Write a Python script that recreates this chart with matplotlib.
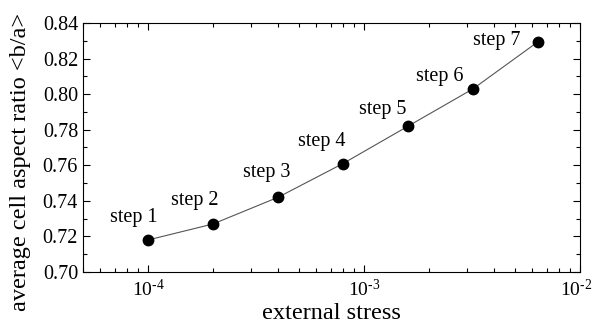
import numpy as np
import matplotlib
matplotlib.use('Agg')
import matplotlib.pyplot as plt
import matplotlib.transforms as mtransforms
from matplotlib.ticker import LogLocator, MultipleLocator, FixedLocator, NullFormatter

plt.rcParams['font.family'] = 'Liberation Serif'
plt.rcParams['mathtext.fontset'] = 'custom'
plt.rcParams['mathtext.rm'] = 'Liberation Serif'
plt.rcParams['mathtext.it'] = 'Liberation Serif:italic'

# data
stress = [1e-4, 2e-4, 4e-4, 8e-4, 1.6e-3, 3.2e-3, 6.4e-3]
ratio = [0.718, 0.727, 0.742, 0.761, 0.782, 0.803, 0.8295]
labels = ['step 1', 'step 2', 'step 3', 'step 4', 'step 5', 'step 6', 'step 7']
x_ticks = [1e-4, 1e-3, 1e-2]
x_ticklabels = [r'10$^{\text{-4}}$', r'10$^{\text{-3}}$', r'10$^{\text{-2}}$']

# label offsets in points (text centre relative to marker)
offsets = [(-10, 16), (-13, 17), (-8, 18), (-15, 16), (-18, 12), (-24, 9), (-30, 1)]

fig = plt.figure(figsize=(5.94, 3.27), dpi=100)
ax = fig.add_axes([0.1397, 0.1682, 0.8367, 0.7615])

ax.plot(stress, ratio, color='#555555', lw=0.8, zorder=2)
ax.plot(stress, ratio, 'o', color='black', ms=7.5, zorder=3)

for xv, yv, lab, off in zip(stress, ratio, labels, offsets):
    ax.annotate(lab, (xv, yv), xytext=off, textcoords='offset points',
                ha='center', va='center', fontsize=14.5)

ax.set_xscale('log')
ax.set_xlim(5e-5, 1e-2)
ax.set_ylim(0.70, 0.84)
ax.xaxis.set_major_locator(FixedLocator(x_ticks))
ax.set_xticklabels(x_ticklabels)
ax.xaxis.set_minor_locator(LogLocator(base=10, subs=np.arange(2, 10)))
ax.xaxis.set_minor_formatter(NullFormatter())
ax.yaxis.set_major_locator(MultipleLocator(0.02))
ax.yaxis.set_minor_locator(MultipleLocator(0.01))
ax.yaxis.set_major_formatter(plt.FormatStrFormatter('%.2f'))

ax.tick_params(which='both', direction='in', top=True, right=True, labelsize=14.5)
ax.tick_params(axis='x', labelsize=14)
ax.tick_params(which='major', length=5, width=0.8)
ax.tick_params(which='minor', length=3, width=0.8)
ax.tick_params(axis='x', pad=5)

# nudge the last x label so it stays inside the figure
last = ax.get_xticklabels()[-1]
last.set_transform(last.get_transform() + mtransforms.ScaledTranslation(-3 / 72, 0, fig.dpi_scale_trans))

ax.set_xlabel('external stress', fontsize=17.5, labelpad=2)
ax.set_ylabel('average cell aspect ratio <b/a>', fontsize=17.5)
ax.yaxis.set_label_coords(-0.105, 0.444)

plt.savefig('out.png', dpi=100)
